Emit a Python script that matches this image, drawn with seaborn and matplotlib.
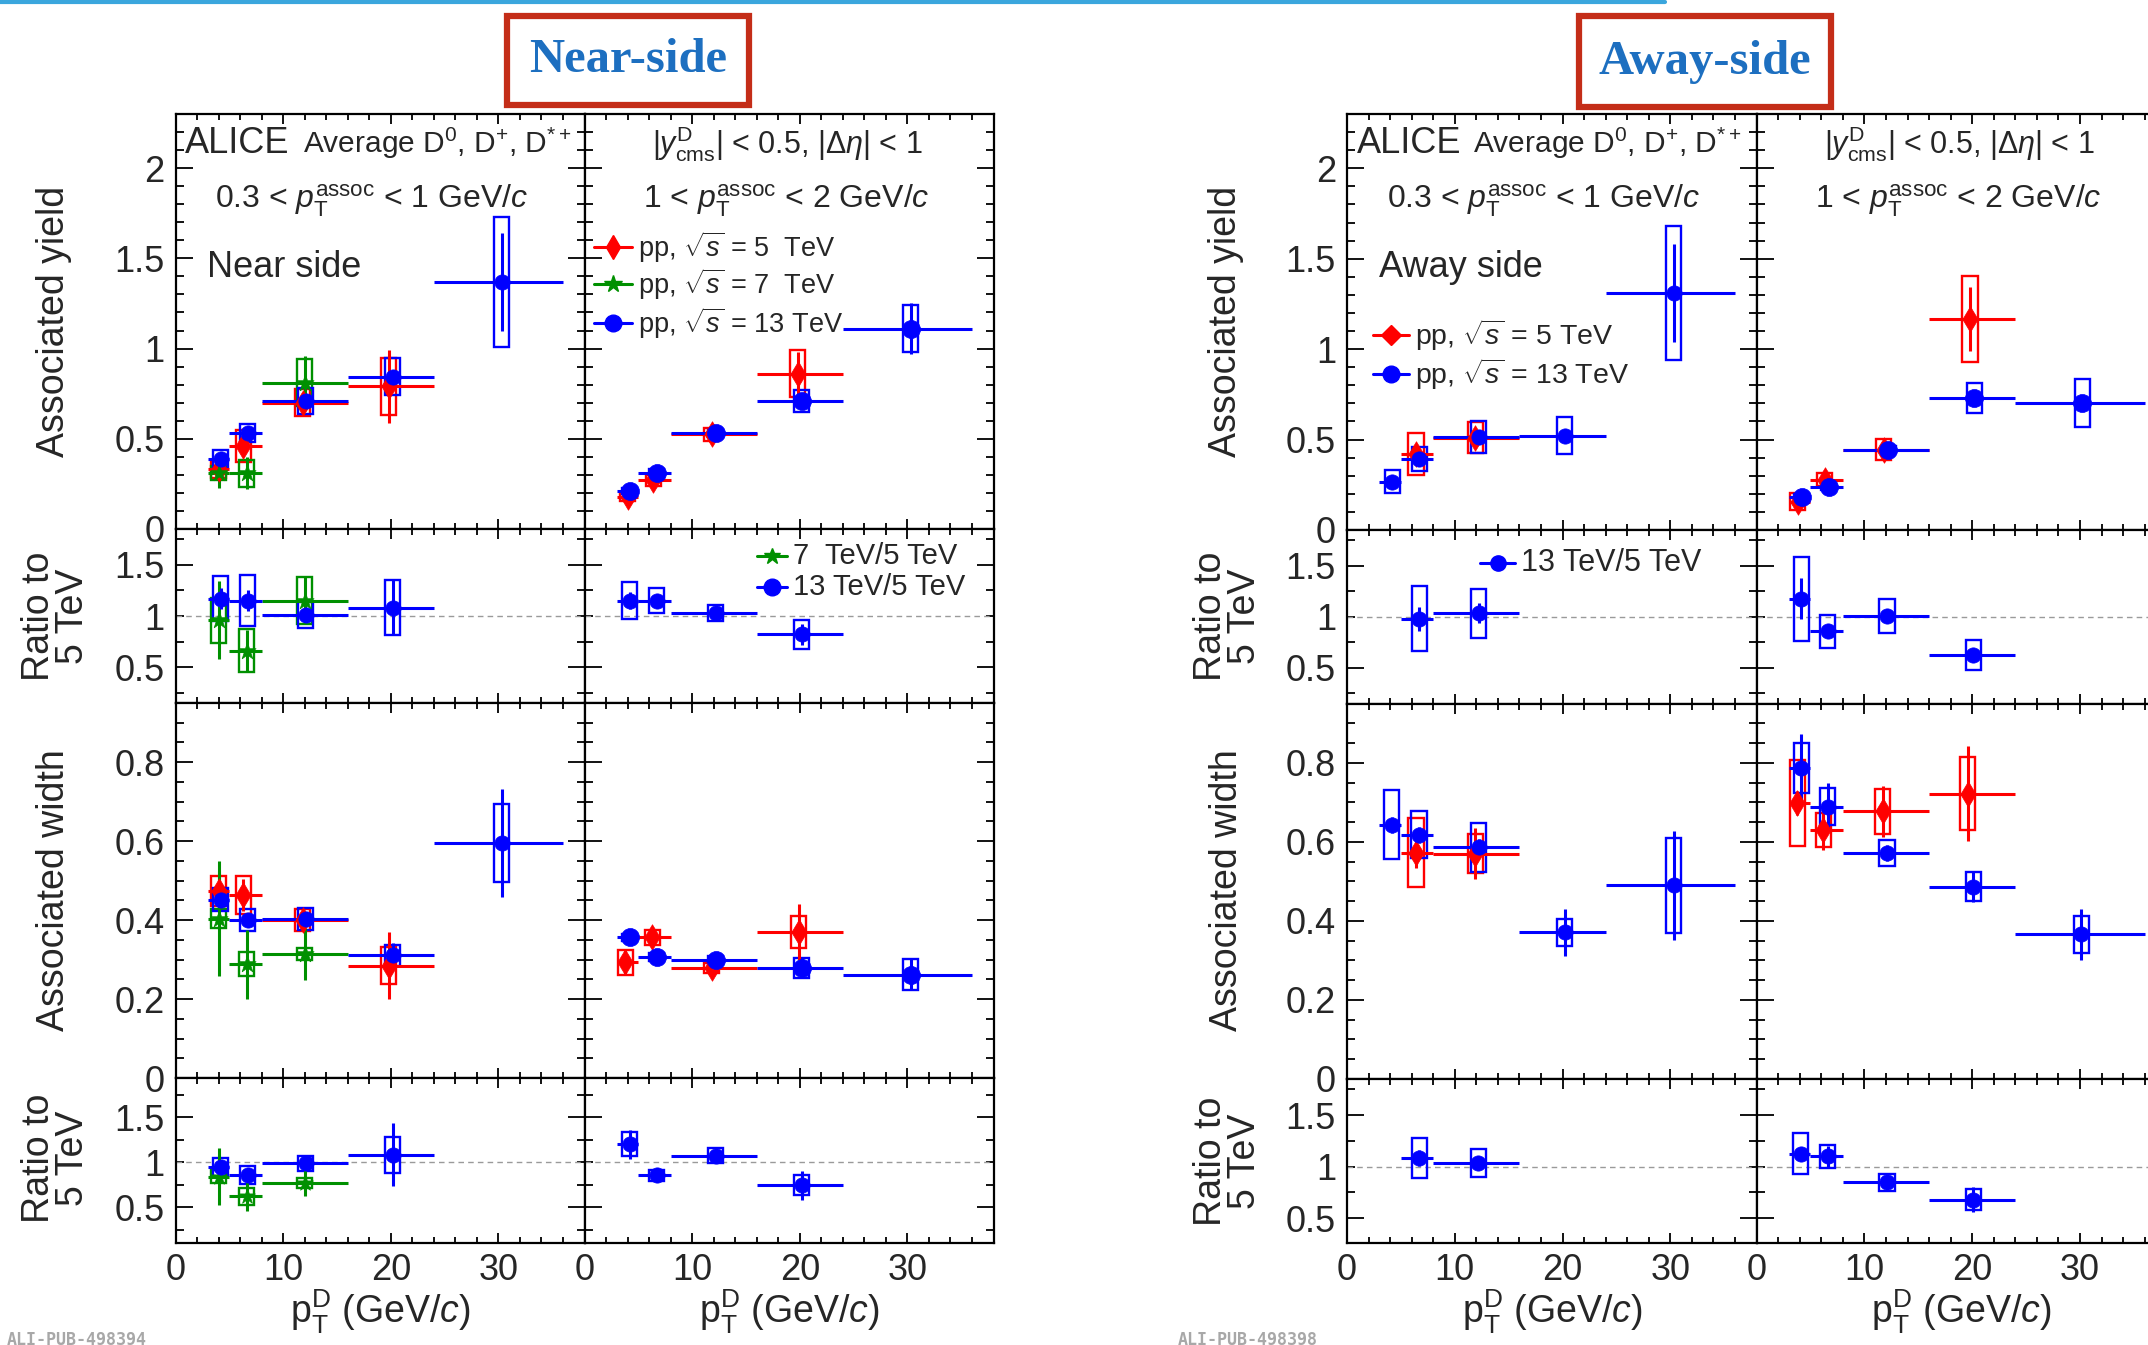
import numpy as np
import matplotlib
matplotlib.use("Agg")
import matplotlib.pyplot as plt
from matplotlib.patches import Rectangle
from matplotlib.lines import Line2D
from matplotlib.ticker import FixedLocator, MultipleLocator, FuncFormatter
import seaborn as sns

sns.set_style("ticks")
plt.rcParams['font.family'] = ['Liberation Sans', 'DejaVu Sans']
plt.rcParams['mathtext.fontset'] = 'custom'
plt.rcParams['mathtext.rm'] = 'Liberation Sans'
plt.rcParams['mathtext.it'] = 'Liberation Sans:italic'
plt.rcParams['mathtext.bf'] = 'Liberation Sans:bold'

# ---------------- data ----------------
BIN_LO = [3, 5, 8, 16, 24]
BIN_HI = [5, 8, 16, 24, 36]

# Near side, 0.3 < pT assoc < 1 : yield
ns1_y5_bins = [0, 1, 2, 3]
ns1_y5_x = [4.0, 6.3, 11.8, 19.8]
ns1_y5_v = [0.33, 0.46, 0.70, 0.79]
ns1_y5_stat = [0.03, 0.04, 0.03, 0.20]
ns1_y5_syst = [0.05, 0.09, 0.075, 0.16]
ns1_y7_bins = [0, 1, 2]
ns1_y7_x = [4.0, 6.6, 12.0]
ns1_y7_v = [0.31, 0.31, 0.81]
ns1_y7_stat = [0.08, 0.09, 0.15]
ns1_y7_syst = [0.04, 0.075, 0.13]
ns1_y13_bins = [0, 1, 2, 3, 4]
ns1_y13_x = [4.2, 6.7, 12.1, 20.2, 30.3]
ns1_y13_v = [0.39, 0.53, 0.71, 0.845, 1.37]
ns1_y13_stat = [0.02, 0.02, 0.03, 0.03, 0.27]
ns1_y13_syst = [0.05, 0.05, 0.07, 0.105, 0.36]
# Near side, 1 < pT assoc < 2 : yield
ns2_y5_bins = [0, 1, 2, 3]
ns2_y5_x = [4.0, 6.4, 11.8, 19.8]
ns2_y5_v = [0.18, 0.27, 0.525, 0.86]
ns2_y5_stat = [0.01, 0.02, 0.015, 0.12]
ns2_y5_syst = [0.025, 0.03, 0.037, 0.13]
ns2_y13_bins = [0, 1, 2, 3, 4]
ns2_y13_x = [4.2, 6.7, 12.2, 20.2, 30.3]
ns2_y13_v = [0.21, 0.31, 0.53, 0.71, 1.11]
ns2_y13_stat = [0.01, 0.01, 0.01, 0.02, 0.14]
ns2_y13_syst = [0.015, 0.02, 0.02, 0.06, 0.13]
# Near side yield ratios
ns1_r7_bins = [0, 1, 2]
ns1_r7_x = [4.0, 6.6, 12.0]
ns1_r7_v = [0.96, 0.66, 1.15]
ns1_r7_stat = [0.38, 0.20, 0.23]
ns1_r7_syst = [0.22, 0.21, 0.23]
ns1_r13_bins = [0, 1, 2, 3]
ns1_r13_x = [4.2, 6.7, 12.1, 20.2]
ns1_r13_v = [1.17, 1.15, 1.01, 1.08]
ns1_r13_stat = [0.10, 0.10, 0.05, 0.27]
ns1_r13_syst = [0.22, 0.25, 0.13, 0.27]
ns2_r13_bins = [0, 1, 2, 3]
ns2_r13_x = [4.2, 6.7, 12.2, 20.2]
ns2_r13_v = [1.15, 1.15, 1.03, 0.82]
ns2_r13_stat = [0.08, 0.06, 0.03, 0.10]
ns2_r13_syst = [0.18, 0.12, 0.08, 0.145]
# Near side widths
ns1_w5_bins = [0, 1, 2, 3]
ns1_w5_x = [4.0, 6.3, 11.8, 19.8]
ns1_w5_v = [0.474, 0.463, 0.40, 0.285]
ns1_w5_stat = [0.05, 0.04, 0.02, 0.085]
ns1_w5_syst = [0.038, 0.048, 0.028, 0.046]
ns1_w7_bins = [0, 1, 2]
ns1_w7_x = [4.0, 6.6, 12.0]
ns1_w7_v = [0.404, 0.288, 0.314]
ns1_w7_stat = [0.145, 0.088, 0.065]
ns1_w7_syst = [0.025, 0.03, 0.015]
ns1_w13_bins = [0, 1, 2, 3, 4]
ns1_w13_x = [4.2, 6.7, 12.1, 20.2, 30.3]
ns1_w13_v = [0.452, 0.40, 0.402, 0.311, 0.596]
ns1_w13_stat = [0.02, 0.015, 0.015, 0.03, 0.137]
ns1_w13_syst = [0.03, 0.028, 0.028, 0.027, 0.099]
ns2_w5_bins = [0, 1, 2, 3]
ns2_w5_x = [3.8, 6.3, 11.8, 19.9]
ns2_w5_v = [0.293, 0.356, 0.279, 0.37]
ns2_w5_stat = [0.033, 0.02, 0.015, 0.07]
ns2_w5_syst = [0.032, 0.019, 0.013, 0.04]
ns2_w13_bins = [0, 1, 2, 3, 4]
ns2_w13_x = [4.2, 6.7, 12.2, 20.2, 30.3]
ns2_w13_v = [0.356, 0.307, 0.30, 0.278, 0.262]
ns2_w13_stat = [0.02, 0.01, 0.01, 0.025, 0.04]
ns2_w13_syst = [0.01, 0.01, 0.01, 0.025, 0.04]
# Near side width ratios
ns1_wr7_bins = [0, 1, 2]
ns1_wr7_x = [4.0, 6.6, 12.0]
ns1_wr7_v = [0.84, 0.62, 0.77]
ns1_wr7_stat = [0.32, 0.16, 0.15]
ns1_wr7_syst = [0.07, 0.095, 0.06]
ns1_wr13_bins = [0, 1, 2, 3]
ns1_wr13_x = [4.2, 6.7, 12.1, 20.2]
ns1_wr13_v = [0.944, 0.863, 0.99, 1.085]
ns1_wr13_stat = [0.05, 0.03, 0.05, 0.35]
ns1_wr13_syst = [0.10, 0.10, 0.085, 0.20]
ns2_wr13_bins = [0, 1, 2, 3]
ns2_wr13_x = [4.2, 6.7, 12.2, 20.2]
ns2_wr13_v = [1.20, 0.856, 1.074, 0.744]
ns2_wr13_stat = [0.16, 0.03, 0.04, 0.16]
ns2_wr13_syst = [0.135, 0.06, 0.08, 0.11]

# Away side yields
as1_y5_bins = [1, 2]
as1_y5_x = [6.4, 11.9]
as1_y5_v = [0.42, 0.51]
as1_y5_stat = [0.03, 0.03]
as1_y5_syst = [0.115, 0.085]
as1_y13_bins = [0, 1, 2, 3, 4]
as1_y13_x = [4.2, 6.7, 12.2, 20.2, 30.3]
as1_y13_v = [0.268, 0.393, 0.515, 0.522, 1.309]
as1_y13_stat = [0.02, 0.02, 0.02, 0.03, 0.27]
as1_y13_syst = [0.065, 0.068, 0.087, 0.10, 0.37]
as2_y5_bins = [0, 1, 2, 3]
as2_y5_x = [3.8, 6.3, 11.8, 19.8]
as2_y5_v = [0.157, 0.278, 0.444, 1.167]
as2_y5_stat = [0.01, 0.015, 0.02, 0.175]
as2_y5_syst = [0.045, 0.037, 0.058, 0.24]
as2_y13_bins = [0, 1, 2, 3, 4]
as2_y13_x = [4.2, 6.7, 12.2, 20.2, 30.2]
as2_y13_v = [0.185, 0.237, 0.444, 0.728, 0.70]
as2_y13_stat = [0.01, 0.01, 0.01, 0.03, 0.04]
as2_y13_syst = [0.015, 0.015, 0.02, 0.083, 0.133]
# Away side yield ratios
as1_r13_bins = [1, 2]
as1_r13_x = [6.7, 12.2]
as1_r13_v = [0.98, 1.036]
as1_r13_stat = [0.12, 0.10]
as1_r13_syst = [0.32, 0.24]
as2_r13_bins = [0, 1, 2, 3]
as2_r13_x = [4.15, 6.6, 12.1, 20.1]
as2_r13_v = [1.176, 0.856, 1.01, 0.627]
as2_r13_stat = [0.20, 0.05, 0.06, 0.06]
as2_r13_syst = [0.41, 0.165, 0.165, 0.15]
# Away side widths
as1_w5_bins = [1, 2]
as1_w5_x = [6.4, 11.9]
as1_w5_v = [0.573, 0.57]
as1_w5_stat = [0.04, 0.065]
as1_w5_syst = [0.087, 0.05]
as1_w13_bins = [0, 1, 2, 3, 4]
as1_w13_x = [4.14, 6.68, 12.2, 20.2, 30.3]
as1_w13_v = [0.643, 0.618, 0.586, 0.371, 0.49]
as1_w13_stat = [0.02, 0.02, 0.02, 0.06, 0.138]
as1_w13_syst = [0.087, 0.059, 0.062, 0.034, 0.12]
as2_w5_bins = [0, 1, 2, 3]
as2_w5_x = [3.76, 6.2, 11.7, 19.6]
as2_w5_v = [0.698, 0.63, 0.677, 0.722]
as2_w5_stat = [0.03, 0.05, 0.065, 0.12]
as2_w5_syst = [0.109, 0.044, 0.057, 0.092]
as2_w13_bins = [0, 1, 2, 3, 4]
as2_w13_x = [4.15, 6.6, 12.1, 20.1, 30.1]
as2_w13_v = [0.787, 0.689, 0.571, 0.487, 0.366]
as2_w13_stat = [0.085, 0.06, 0.02, 0.04, 0.065]
as2_w13_syst = [0.063, 0.046, 0.033, 0.036, 0.047]
# Away side width ratios
as1_wr13_bins = [1, 2]
as1_wr13_x = [6.72, 12.17]
as1_wr13_v = [1.084, 1.036]
as1_wr13_stat = [0.08, 0.05]
as1_wr13_syst = [0.195, 0.135]
as2_wr13_bins = [0, 1, 2, 3]
as2_wr13_x = [4.1, 6.6, 12.1, 20.1]
as2_wr13_v = [1.126, 1.10, 0.848, 0.68]
as2_wr13_stat = [0.06, 0.10, 0.03, 0.12]
as2_wr13_syst = [0.20, 0.11, 0.085, 0.10]

X_TICKS = [0, 10, 20, 30]
YIELD_TICKS = [0, 0.5, 1, 1.5, 2]
WIDTH_TICKS = [0, 0.2, 0.4, 0.6, 0.8]
RATIO_TICKS = [0.5, 1, 1.5]

# ---------------- style ----------------
RED, GREEN, BLUE = '#ff0000', '#009000', '#0000ff'
W, H = 2148, 1345
fig = plt.figure(figsize=(W / 100, H / 100), dpi=100)
fig.patch.set_facecolor('white')

TICK_FS = 26
LAB_FS = 27


def pos(x0, w, ytop, ybot):
    return [x0 / W, 1 - ybot / H, w / W, (ybot - ytop) / H]


fmt = FuncFormatter(lambda v, p: '%g' % v)


def setup(ax, kind, ylim, show_y, show_x):
    ax.set_xlim(0, 38)
    ax.set_ylim(*ylim)
    ax.xaxis.set_major_locator(FixedLocator(X_TICKS))
    ax.xaxis.set_minor_locator(MultipleLocator(2))
    if kind == 'yield':
        ax.yaxis.set_major_locator(FixedLocator(YIELD_TICKS))
        ax.yaxis.set_minor_locator(MultipleLocator(0.1))
    elif kind == 'width':
        ax.yaxis.set_major_locator(FixedLocator(WIDTH_TICKS))
        ax.yaxis.set_minor_locator(MultipleLocator(0.05))
    else:
        ax.yaxis.set_major_locator(FixedLocator(RATIO_TICKS))
        ax.yaxis.set_minor_locator(MultipleLocator(0.25))
        ax.axhline(1, color='#9a9a9a', ls=(0, (4, 3)), lw=1.0, zorder=1)
    ax.xaxis.set_major_formatter(fmt)
    ax.yaxis.set_major_formatter(fmt)
    ax.tick_params(which='both', direction='in', top=True, right=True,
                   color='black', width=1.3, labelsize=TICK_FS)
    ax.tick_params(axis='y', which='major', length=12, pad=8)
    ax.tick_params(axis='y', which='minor', length=6)
    ax.tick_params(axis='x', which='major', length=7, pad=7)
    ax.tick_params(axis='x', which='minor', length=4)
    ax.tick_params(axis='y', labelleft=show_y)
    ax.tick_params(axis='x', labelbottom=show_x)
    for s in ax.spines.values():
        s.set_linewidth(1.6)
        s.set_color('black')
    ax.set_facecolor('white')
    if kind == 'ratio':
        for t, v in zip(ax.yaxis.get_major_ticks(), RATIO_TICKS):
            if v == 1:
                t.tick1line.set_markersize(6)
                t.tick2line.set_markersize(6)


def draw(ax, bins, x, v, stat, syst, color, marker, ms, bw=1.4):
    x = np.asarray(x, float)
    v = np.asarray(v, float)
    lo = np.array([BIN_LO[b] for b in bins], float)
    hi = np.array([BIN_HI[b] for b in bins], float)
    for xi, vi, si in zip(x, v, syst):
        ax.add_patch(Rectangle((xi - bw / 2, vi - si), bw, 2 * si, fill=False,
                               edgecolor=color, lw=1.7, zorder=2))
    ax.errorbar(x, v, xerr=[x - lo, hi - x], yerr=stat, fmt='none',
                ecolor=color, elinewidth=2.2, capsize=0, zorder=3)
    sns.scatterplot(x=x, y=v, marker=marker, s=ms ** 2, color=color,
                    edgecolor=color, linewidth=0.5, ax=ax, zorder=4, legend=False)


def leg_entry(ax, x0, x1, y, color, marker, ms, label, fs):
    ax.plot([x0, x1], [y, y], color=color, lw=2.2, transform=ax.transAxes,
            clip_on=False, zorder=5)
    ax.plot([(x0 + x1) / 2], [y], marker=marker, ms=ms, color=color,
            transform=ax.transAxes, clip_on=False, zorder=6, lw=0)
    ax.text(x1 + 0.015, y, label, transform=ax.transAxes, fontsize=fs,
            va='center', ha='left')


YL_Y = (0, 2.3)
RA_Y = (0.15, 1.85)
WI_Y = (0, 0.95)
RB_YN = (0.1, 1.94)
RB_YA = (0.26, 1.85)

blocks = {
    'near': dict(x0=175.5, cw=409.0,
                 rows=[(114, 529), (529, 703), (703, 1078), (1078, 1243)]),
    'away': dict(x0=1347.0, cw=409.6,
                 rows=[(114, 530), (530, 703.5), (703.5, 1079), (1079, 1243)]),
}

axes = {}
for name, b in blocks.items():
    kinds = ['yield', 'ratio', 'width', 'ratio']
    ylims = [YL_Y, RA_Y, WI_Y, RB_YN if name == 'near' else RB_YA]
    for r, (yt, yb) in enumerate(b['rows']):
        for c in range(2):
            ax = fig.add_axes(pos(b['x0'] + c * b['cw'], b['cw'], yt, yb))
            setup(ax, kinds[r], ylims[r], show_y=(c == 0), show_x=(r == 3))
            axes[(name, r, c)] = ax

MS_L, MS_R = 11, 13
# ---- near side ----
ax = axes[('near', 0, 0)]
draw(ax, ns1_y5_bins, ns1_y5_x, ns1_y5_v, ns1_y5_stat, ns1_y5_syst, RED, 'd', 13)
draw(ax, ns1_y7_bins, ns1_y7_x, ns1_y7_v, ns1_y7_stat, ns1_y7_syst, GREEN, '*', 13)
draw(ax, ns1_y13_bins, ns1_y13_x, ns1_y13_v, ns1_y13_stat, ns1_y13_syst, BLUE, 'o', MS_L)
ax = axes[('near', 0, 1)]
draw(ax, ns2_y5_bins, ns2_y5_x, ns2_y5_v, ns2_y5_stat, ns2_y5_syst, RED, 'd', 13)
draw(ax, ns2_y13_bins, ns2_y13_x, ns2_y13_v, ns2_y13_stat, ns2_y13_syst, BLUE, 'o', MS_R)
ax = axes[('near', 1, 0)]
draw(ax, ns1_r7_bins, ns1_r7_x, ns1_r7_v, ns1_r7_stat, ns1_r7_syst, GREEN, '*', 13)
draw(ax, ns1_r13_bins, ns1_r13_x, ns1_r13_v, ns1_r13_stat, ns1_r13_syst, BLUE, 'o', MS_L)
ax = axes[('near', 1, 1)]
draw(ax, ns2_r13_bins, ns2_r13_x, ns2_r13_v, ns2_r13_stat, ns2_r13_syst, BLUE, 'o', MS_L)
ax = axes[('near', 2, 0)]
draw(ax, ns1_w5_bins, ns1_w5_x, ns1_w5_v, ns1_w5_stat, ns1_w5_syst, RED, 'd', 13)
draw(ax, ns1_w7_bins, ns1_w7_x, ns1_w7_v, ns1_w7_stat, ns1_w7_syst, GREEN, '*', 13)
draw(ax, ns1_w13_bins, ns1_w13_x, ns1_w13_v, ns1_w13_stat, ns1_w13_syst, BLUE, 'o', MS_L)
ax = axes[('near', 2, 1)]
draw(ax, ns2_w5_bins, ns2_w5_x, ns2_w5_v, ns2_w5_stat, ns2_w5_syst, RED, 'd', 13)
draw(ax, ns2_w13_bins, ns2_w13_x, ns2_w13_v, ns2_w13_stat, ns2_w13_syst, BLUE, 'o', MS_R)
ax = axes[('near', 3, 0)]
draw(ax, ns1_wr7_bins, ns1_wr7_x, ns1_wr7_v, ns1_wr7_stat, ns1_wr7_syst, GREEN, '*', 12)
draw(ax, ns1_wr13_bins, ns1_wr13_x, ns1_wr13_v, ns1_wr13_stat, ns1_wr13_syst, BLUE, 'o', MS_L)
ax = axes[('near', 3, 1)]
draw(ax, ns2_wr13_bins, ns2_wr13_x, ns2_wr13_v, ns2_wr13_stat, ns2_wr13_syst, BLUE, 'o', MS_L)

# ---- away side ----
ax = axes[('away', 0, 0)]
draw(ax, as1_y5_bins, as1_y5_x, as1_y5_v, as1_y5_stat, as1_y5_syst, RED, 'd', 13)
draw(ax, as1_y13_bins, as1_y13_x, as1_y13_v, as1_y13_stat, as1_y13_syst, BLUE, 'o', MS_L)
ax = axes[('away', 0, 1)]
draw(ax, as2_y5_bins, as2_y5_x, as2_y5_v, as2_y5_stat, as2_y5_syst, RED, 'd', 13)
draw(ax, as2_y13_bins, as2_y13_x, as2_y13_v, as2_y13_stat, as2_y13_syst, BLUE, 'o', MS_R)
ax = axes[('away', 1, 0)]
draw(ax, as1_r13_bins, as1_r13_x, as1_r13_v, as1_r13_stat, as1_r13_syst, BLUE, 'o', MS_L)
ax = axes[('away', 1, 1)]
draw(ax, as2_r13_bins, as2_r13_x, as2_r13_v, as2_r13_stat, as2_r13_syst, BLUE, 'o', MS_L)
ax = axes[('away', 2, 0)]
draw(ax, as1_w5_bins, as1_w5_x, as1_w5_v, as1_w5_stat, as1_w5_syst, RED, 'd', 13)
draw(ax, as1_w13_bins, as1_w13_x, as1_w13_v, as1_w13_stat, as1_w13_syst, BLUE, 'o', MS_L)
ax = axes[('away', 2, 1)]
draw(ax, as2_w5_bins, as2_w5_x, as2_w5_v, as2_w5_stat, as2_w5_syst, RED, 'd', 13)
draw(ax, as2_w13_bins, as2_w13_x, as2_w13_v, as2_w13_stat, as2_w13_syst, BLUE, 'o', MS_L)
ax = axes[('away', 3, 0)]
draw(ax, as1_wr13_bins, as1_wr13_x, as1_wr13_v, as1_wr13_stat, as1_wr13_syst, BLUE, 'o', MS_L)
ax = axes[('away', 3, 1)]
draw(ax, as2_wr13_bins, as2_wr13_x, as2_wr13_v, as2_wr13_stat, as2_wr13_syst, BLUE, 'o', MS_L)

# ---------------- texts in panels ----------------
PT1 = r'0.3 < $p_{\mathrm{T}}^{\mathrm{assoc}}$ < 1 GeV/$c$'
PT2 = r'1 < $p_{\mathrm{T}}^{\mathrm{assoc}}$ < 2 GeV/$c$'
YCUT = r'|$y^{\mathrm{D}}_{\mathrm{cms}}$| < 0.5, |$\Delta\eta$| < 1'
AVG = r'Average D$^{0}$, D$^{+}$, D$^{*+}$'

for name, side_lbl, xa, xavg in [('near', 'Near side', 0.023, 0.312),
                                  ('away', 'Away side', 0.024, 0.307)]:
    ax = axes[(name, 0, 0)]
    ax.text(xa, 0.906, 'ALICE', transform=ax.transAxes, fontsize=26, va='baseline')
    ax.text(xavg, 0.906, AVG, transform=ax.transAxes, fontsize=21.5, va='baseline')
    ax.text(0.48, 0.773, PT1, transform=ax.transAxes, fontsize=23, va='baseline', ha='center')
    ax.text(0.077, 0.607, side_lbl, transform=ax.transAxes, fontsize=26, va='baseline')
    ax = axes[(name, 0, 1)]
    ax.text(0.495, 0.906, YCUT, transform=ax.transAxes, fontsize=22, va='baseline', ha='center')
    ax.text(0.493, 0.773, PT2, transform=ax.transAxes, fontsize=23, va='baseline', ha='center')

SQ = r'pp, $\sqrt{s}$ = '
ax = axes[('near', 0, 1)]
leg_entry(ax, 0.023, 0.116, 0.680, RED, 'd', 12, SQ + '5  TeV', 19.5)
leg_entry(ax, 0.023, 0.116, 0.590, GREEN, '*', 13, SQ + '7  TeV', 19.5)
leg_entry(ax, 0.023, 0.116, 0.496, BLUE, 'o', 12, SQ + '13 TeV', 19.5)
ax = axes[('near', 1, 1)]
leg_entry(ax, 0.422, 0.495, 0.845, GREEN, '*', 12, '7  TeV/5 TeV', 21)
leg_entry(ax, 0.422, 0.495, 0.667, BLUE, 'o', 12, '13 TeV/5 TeV', 21)
ax = axes[('away', 0, 0)]
leg_entry(ax, 0.063, 0.151, 0.469, RED, 'D', 10, SQ + '5 TeV', 20.5)
leg_entry(ax, 0.063, 0.151, 0.375, BLUE, 'o', 12, SQ + '13 TeV', 20.5)
ax = axes[('away', 1, 0)]
leg_entry(ax, 0.325, 0.410, 0.81, BLUE, 'o', 11, '13 TeV/5 TeV', 22)

# ---------------- axis titles ----------------
XLAB = r'$\mathrm{p}_{\mathrm{T}}^{\mathrm{D}}$ (GeV/$c$)'
for xc in [380, 789, 1552, 1961]:
    fig.text(xc / W, 1 - 1324 / H, XLAB, fontsize=LAB_FS, ha='center', va='baseline')

for lbls in [[(54, 321, 'Associated yield'), (56, 616, 'Ratio to\n5 TeV'),
              (54, 890, 'Associated width'), (56, 1158, 'Ratio to\n5 TeV')],
             [(1226, 321, 'Associated yield'), (1228, 616, 'Ratio to\n5 TeV'),
              (1227, 890, 'Associated width'), (1228, 1161, 'Ratio to\n5 TeV')]]:
    for xc, yc, t in lbls:
        fig.text(xc / W, 1 - yc / H, t, fontsize=LAB_FS, rotation=90,
                 ha='center', va='center', multialignment='center', linespacing=0.95)

# ---------------- decorations ----------------
fig.add_artist(Line2D([0, 1665 / W], [1 - 2 / H, 1 - 2 / H], color='#3aa6dd', lw=3,
                      transform=fig.transFigure))
for (bx0, by0, bx1, by1, txt) in [(507, 16, 749, 105, 'Near-side'),
                                   (1579, 16, 1831, 107, 'Away-side')]:
    fig.add_artist(Rectangle((bx0 / W, 1 - by1 / H), (bx1 - bx0) / W, (by1 - by0) / H,
                             transform=fig.transFigure, facecolor='white',
                             edgecolor='#c42d18', lw=4.5))
    fig.text((bx0 + bx1) / 2 / W, 1 - (by0 + by1) / 2 / H, txt, fontsize=35,
             fontweight='bold', family='Liberation Serif', color='#1d6fc0',
             ha='center', va='center')

for x0, t in [(7, 'ALI-PUB-498394'), (1178, 'ALI-PUB-498398')]:
    fig.text(x0 / W, 1 - 1340 / H, t, fontsize=12, color='#a8a8a8',
             family='DejaVu Sans Mono', fontweight='bold', va='center', ha='left')

fig.savefig('out.png', dpi=100)
